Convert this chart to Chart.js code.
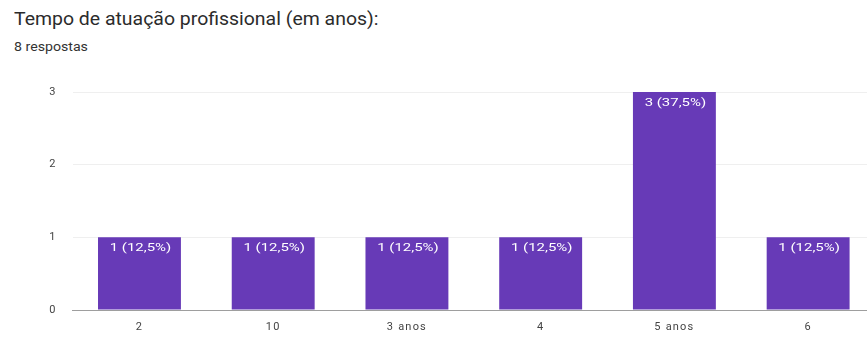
<!DOCTYPE html>
<html>
<head>
<meta charset="utf-8">
<script src="https://cdn.jsdelivr.net/npm/chart.js@4/dist/chart.umd.min.js"></script>
<style>
  html, body { margin: 0; padding: 0; background: #fff; width: 867px; height: 338px; overflow: hidden; }
  #title { position: absolute; left: 14px; top: 8px; font: 18px Roboto, Arial, sans-serif; color: #2b2b2b; white-space: nowrap; transform: scaleX(1.08); transform-origin: left top; }
  #sub { position: absolute; left: 14px; top: 40px; font: 12px Roboto, Arial, sans-serif; color: #333; white-space: nowrap; transform: scaleX(1.18); transform-origin: left top; }
  #wrap { position: absolute; left: 0; top: 0; width: 880px; height: 338px; }
</style>
</head>
<body>
<div id="title">Tempo de atuação profissional (em anos):</div>
<div id="sub">8 respostas</div>
<div id="wrap"><canvas id="c"></canvas></div>
<script>
const categories = ['2', '10', '3 anos', '4', '5 anos', '6'];
const counts = [1, 1, 1, 1, 3, 1];
const yTicks = [0, 1, 2, 3];
const total = counts.reduce((a, b) => a + b, 0);

function pctLabel(v) {
  return v + ' (' + (v / total * 100).toFixed(1).replace('.', ',') + '%)';
}

// wider tracking for axis text
const axisSpacing = {
  id: 'axisSpacing',
  beforeDraw(chart) { chart.ctx.letterSpacing = '1.2px'; }
};

// "n (p%)" label inside the top of each bar
const barLabels = {
  id: 'barLabels',
  afterDatasetsDraw(chart) {
    const ctx = chart.ctx;
    const meta = chart.getDatasetMeta(0);
    meta.data.forEach((bar, i) => {
      ctx.save();
      ctx.letterSpacing = '0px';
      ctx.fillStyle = '#ffffff';
      ctx.font = '11.5px Roboto, Arial, sans-serif';
      ctx.textAlign = 'center';
      ctx.textBaseline = 'middle';
      ctx.translate(bar.x + 1, bar.y + 11);
      ctx.scale(1.3, 1);
      ctx.fillText(pctLabel(counts[i]), 0, 0);
      ctx.restore();
    });
  }
};

new Chart(document.getElementById('c'), {
  type: 'bar',
  data: {
    labels: categories,
    datasets: [{
      data: counts,
      backgroundColor: '#673ab7',
      borderWidth: 0,
      categoryPercentage: 1,
      barPercentage: 0.62
    }]
  },
  options: {
    responsive: true,
    maintainAspectRatio: false,
    animation: false,
    layout: { padding: { top: 92, right: 5, left: 0, bottom: 0 } },
    plugins: { legend: { display: false }, tooltip: { enabled: false } },
    scales: {
      x: {
        grid: { display: false, drawTicks: false },
        border: { display: true, color: '#9e9e9e', width: 1 },
        ticks: { color: '#444', font: { family: 'Roboto, Arial, sans-serif', size: 11 }, padding: 11 },
        afterFit(s) { s.height = 28; }
      },
      y: {
        min: 0, max: 3,
        afterBuildTicks(s) { s.ticks = yTicks.map(v => ({ value: v })); },
        grid: { color: '#efefef', drawTicks: false },
        border: { display: false },
        ticks: { color: '#444', font: { family: 'Roboto, Arial, sans-serif', size: 11 }, padding: 16 },
        afterFit(s) { s.width = 72.6; }
      }
    }
  },
  plugins: [axisSpacing, barLabels]
});
</script>
</body>
</html>
